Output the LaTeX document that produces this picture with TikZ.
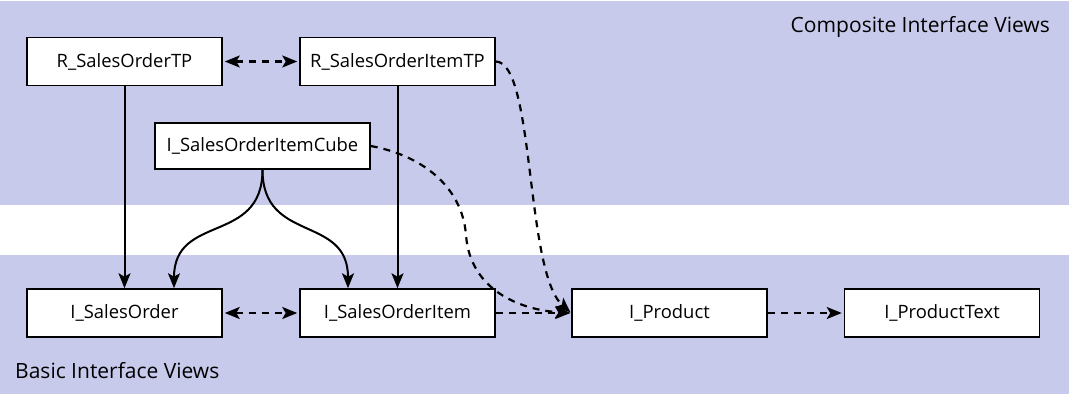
\documentclass[tikz,border=0pt]{standalone}
\usepackage{fontspec}
\setmainfont{Open Sans}
\usetikzlibrary{arrows.meta}
\definecolor{band}{RGB}{200,202,236}
\tikzset{
  box/.style={draw=black, line width=1.5pt, fill=white, minimum width=195pt, minimum height=48pt, inner sep=0pt, font=\fontsize{18.4}{22}\selectfont},
  cubebox/.style={box, minimum width=215pt, minimum height=46pt},
  tip/.style={-{Stealth[length=15pt,width=12pt,inset=3.5pt]}},
  btip/.style={{Stealth[length=15pt,width=12pt,inset=3.5pt]}-{Stealth[length=15pt,width=12pt,inset=3.5pt]}},
  solidarrow/.style={tip, line width=2pt},
  dasharrow/.style={line width=2.2pt, dash pattern=on 7pt off 6pt},
  bandlabel/.style={font=\fontsize{21}{25}\selectfont, inner sep=0pt}
}
\begin{document}
\begin{tikzpicture}[x=1pt, y=-1pt]
\useasboundingbox (0,0) rectangle (1073,401);
\fill[band] (0,1) rectangle (1069,205);
\fill[band] (0,255) rectangle (1069,394);
\node[bandlabel, anchor=east] (comp) at (1050,27) {Composite Interface Views};
\node[bandlabel, anchor=west] (basic) at (15,371) {Basic Interface Views};

\node[box] (rso) at (124.5,61.5) {R\_SalesOrderTP};
\node[box] (rsoi) at (397.5,61.5) {R\_SalesOrderItemTP};
\node[cubebox] (cube) at (262.5,146) {I\_SalesOrderItemCube};
\node[box] (iso) at (124.5,313) {I\_SalesOrder};
\node[box] (isoi) at (397.5,313) {I\_SalesOrderItem};
\node[box] (prod) at (669.5,313) {I\_Product};
\node[box] (ptext) at (942,313) {I\_ProductText};

\draw[dasharrow, btip, shorten <=2pt, shorten >=2pt] (rso.east) -- (rsoi.west);
\draw[dasharrow, btip, shorten <=2pt, shorten >=2pt] (iso.east) -- (isoi.west);
\draw[dasharrow, tip, shorten >=2pt] (prod.east) -- (ptext.west);
\draw[dasharrow, tip, shorten >=1pt] (isoi.east) -- (prod.west);
\draw[dasharrow, tip, shorten >=1pt] (rsoi.east) .. controls (535,62) and (525,272) .. (prod.west);
\draw[dasharrow, tip, shorten >=1pt] (cube.east) .. controls (420,155) and (462,185) .. (466,235) .. controls (470,290) and (520,310) .. (prod.west);

\draw[solidarrow] (rso.south) -- (iso.north);
\draw[solidarrow] (rsoi.south) -- (isoi.north);
\draw[solidarrow] (cube.south) to[out=-90, in=90, looseness=1.3] ([xshift=49.5pt]iso.north);
\draw[solidarrow] (cube.south) to[out=-90, in=90, looseness=1.3] ([xshift=-49.5pt]isoi.north);
\end{tikzpicture}
\end{document}
